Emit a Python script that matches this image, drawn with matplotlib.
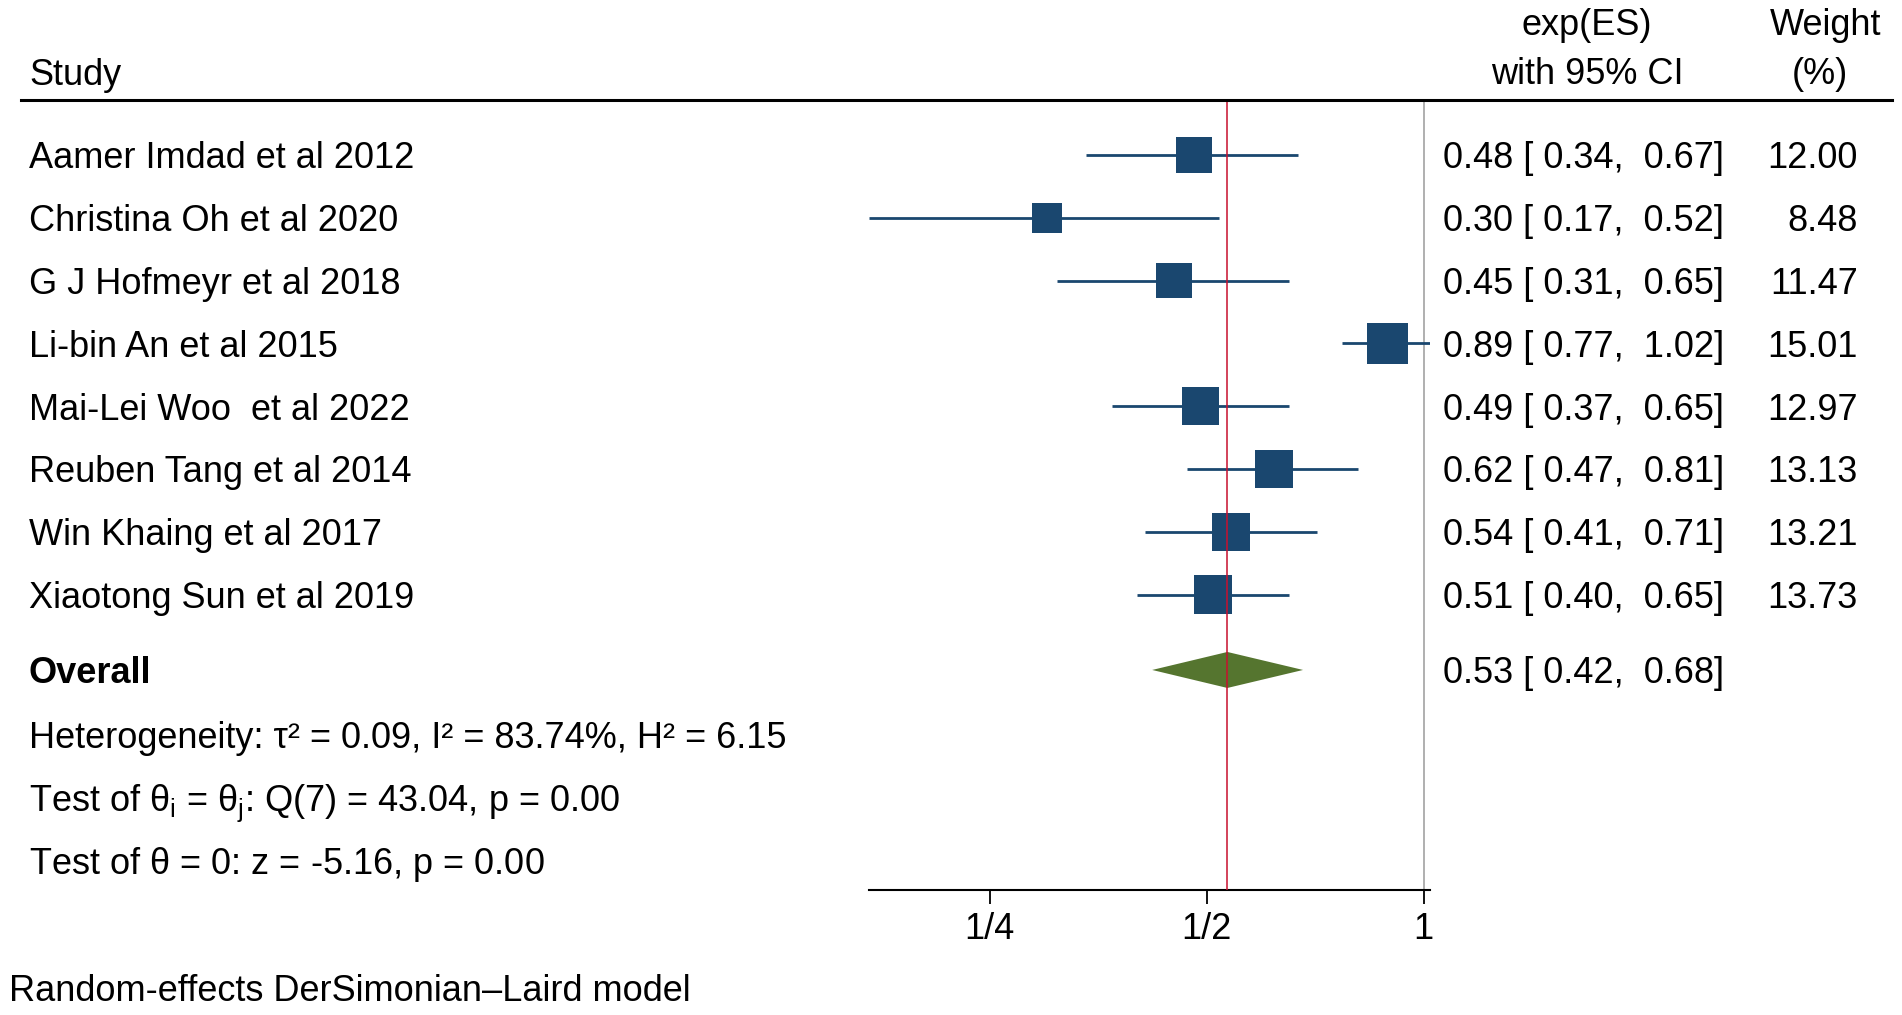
import matplotlib
matplotlib.use("Agg")
import matplotlib.pyplot as plt
from matplotlib.lines import Line2D
from matplotlib.ticker import FixedLocator, FixedFormatter, NullLocator
from matplotlib.transforms import blended_transform_factory

studies = [
    "Aamer Imdad et al 2012",
    "Christina Oh et al 2020",
    "G J Hofmeyr et al 2018",
    "Li-bin An et al 2015",
    "Mai-Lei Woo  et al 2022",
    "Reuben Tang et al 2014",
    "Win Khaing et al 2017",
    "Xiaotong Sun et al 2019",
]
es = [0.48, 0.30, 0.45, 0.89, 0.49, 0.62, 0.54, 0.51]
ci_lo = [0.34, 0.17, 0.31, 0.77, 0.37, 0.47, 0.41, 0.40]
ci_hi = [0.67, 0.52, 0.65, 1.02, 0.65, 0.81, 0.71, 0.65]
weights = [12.00, 8.48, 11.47, 15.01, 12.97, 13.13, 13.21, 13.73]
overall_es, overall_lo, overall_hi = 0.534, 0.42, 0.68
tick_vals = [0.25, 0.5, 1.0]
tick_labels = ["1/4", "1/2", "1"]
stats_lines = [
    "Heterogeneity: τ² = 0.09, I² = 83.74%, H² = 6.15",
    r"Test of $\theta_i$ = $\theta_j$: Q(7) = 43.04, p = 0.00",
    r"Test of $\theta$ = 0: z = -5.16, p = 0.00",
]

NAVY = "#1a476f"
GREEN = "#55752f"
RED = "#c8102e"

plt.rcParams["font.family"] = ["Liberation Sans", "DejaVu Sans"]
plt.rcParams["mathtext.fontset"] = "custom"
plt.rcParams["mathtext.rm"] = "Liberation Sans"
plt.rcParams["mathtext.it"] = "Liberation Sans"
plt.rcParams["mathtext.bf"] = "Liberation Sans:bold"
FS = 26

W, H = 1902, 1015
fig = plt.figure(figsize=(W / 100, H / 100), dpi=100)

# plot panel: header line at 100 px, axis line at 890 px
ax = fig.add_axes([869 / W, 1 - 890 / H, 561 / W, 790 / H])
ax.set_xscale("log")
ax.set_xlim(min(ci_lo), max(ci_hi))
pitch = 62.8
ax.set_ylim((890 - 155) / pitch, (100 - 155) / pitch)

rows = list(range(len(studies)))
ax.axvline(1.0, color="#9a9a9a", lw=1.1, zorder=1)
ax.axvline(overall_es, color=RED, lw=1.1, zorder=4)
ax.hlines(rows, ci_lo, ci_hi, color=NAVY, lw=2.0, zorder=2)
ax.scatter(es, rows, s=[57 * w for w in weights], marker="s", color=NAVY,
           linewidths=0, zorder=3)

y_ov = 8.2
hd = 18 / pitch
ax.fill([overall_lo, overall_es, overall_hi, overall_es],
        [y_ov, y_ov - hd, y_ov, y_ov + hd], color=GREEN, lw=0, zorder=3)

for side in ["top", "left", "right"]:
    ax.spines[side].set_visible(False)
ax.spines["bottom"].set_linewidth(1.5)
ax.yaxis.set_major_locator(NullLocator())
ax.xaxis.set_minor_locator(NullLocator())
ax.xaxis.set_major_locator(FixedLocator(tick_vals))
ax.xaxis.set_major_formatter(FixedFormatter(tick_labels))
ax.tick_params(axis="x", length=10, width=1.3, pad=6, labelsize=FS)
ax.patch.set_visible(False)

# header
fig.add_artist(Line2D([21 / W, 1892 / W], [1 - 100 / H] * 2, color="black",
                      lw=2.2, transform=fig.transFigure))
fig.text(29 / W, 1 - 85 / H, "Study", fontsize=FS, va="baseline")
fig.text(1587 / W, 1 - 35 / H, "exp(ES)", fontsize=FS, va="baseline", ha="center")
fig.text(1587 / W, 1 - 84 / H, "with 95% CI", fontsize=FS, va="baseline", ha="center")
fig.text(1826 / W, 1 - 35 / H, "Weight", fontsize=FS, va="baseline", ha="center")
fig.text(1820 / W, 1 - 84 / H, "(%)", fontsize=FS, va="baseline", ha="center")

tr = blended_transform_factory(fig.transFigure, ax.transData)
for i, name in enumerate(studies):
    ax.text(29 / W, i, name, transform=tr, fontsize=FS, va="center_baseline")
    ax.text(1443 / W, i, "{:.2f} [ {:.2f},  {:.2f}]".format(es[i], ci_lo[i], ci_hi[i]),
            transform=tr, fontsize=FS, va="center_baseline")
    ax.text(1858 / W, i, "{:.2f}".format(weights[i]), transform=tr, fontsize=FS,
            va="center_baseline", ha="right")

ax.text(29 / W, y_ov, "Overall", transform=tr, fontsize=FS, fontweight="bold",
        va="center_baseline")
ax.text(1443 / W, y_ov, "{:.2f} [ {:.2f},  {:.2f}]".format(overall_es, overall_lo, overall_hi),
        transform=tr, fontsize=FS, va="center_baseline")
for k, line in enumerate(stats_lines):
    ax.text(29 / W, y_ov + 1.02 + k, line, transform=tr, fontsize=FS,
            va="center_baseline")

fig.text(9 / W, 1 - 1001 / H, "Random-effects DerSimonian–Laird model",
         fontsize=FS, va="baseline")

fig.savefig("out.png", dpi=100)
